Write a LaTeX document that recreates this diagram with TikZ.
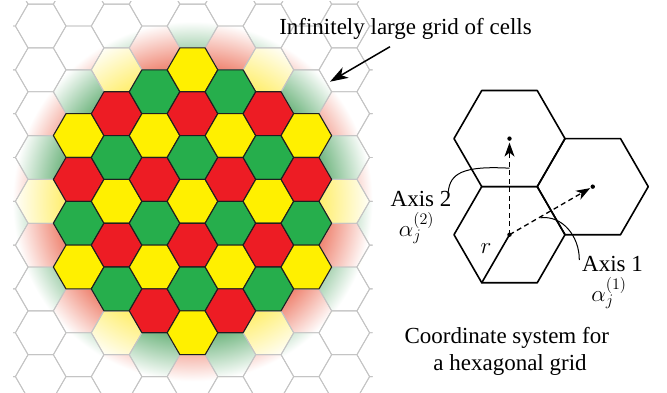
\RequirePackage{fix-cm}
\documentclass[tikz,border=0pt]{standalone}
\usepackage{fontspec}
\setmainfont{Liberation Serif}
\usetikzlibrary{arrows.meta}

\definecolor{hY}{RGB}{255,240,0}
\definecolor{hR}{RGB}{237,28,36}
\definecolor{hG}{RGB}{38,174,76}
\definecolor{fY}{RGB}{255,236,90}
\definecolor{fR}{RGB}{234,95,70}
\definecolor{fG}{RGB}{70,160,90}
\definecolor{gridgray}{RGB}{196,196,196}

\pgfdeclareradialshading{shY}{\pgfpointorigin}{color(0bp)=(fY); color(15bp)=(fY); color(22.5bp)=(white); color(50bp)=(white)}
\pgfdeclareradialshading{shR}{\pgfpointorigin}{color(0bp)=(fR); color(15bp)=(fR); color(22.5bp)=(white); color(50bp)=(white)}
\pgfdeclareradialshading{shG}{\pgfpointorigin}{color(0bp)=(fG); color(15bp)=(fG); color(22.5bp)=(white); color(50bp)=(white)}

\tikzset{
  gridline/.style={draw=gridgray, line width=0.9pt, line join=round},
  cellline/.style={draw=black!88, line width=1.1pt, line join=round},
  hexline/.style={draw=black, line width=1.6pt, line join=round, line cap=round},
  axisarrow/.style={dash pattern=on 5pt off 3.5pt, line width=1.3pt,
     -{Stealth[length=14pt,width=10pt,inset=4pt]}},
  bigarrow/.style={line width=1.5pt, -{Stealth[length=18pt,width=12pt,inset=5pt]}},
  leader/.style={line width=1pt},
  lbl/.style={font=\fontsize{23}{27}\selectfont, inner sep=0pt},
}
\def\HR{25.3}

\begin{document}
\begin{tikzpicture}[x=1pt,y=1pt]
\useasboundingbox (0,0) rectangle (667,392);

% ---------- left: hexagonal grid ----------
\begin{scope}
\clip (13,0) rectangle (372.5,390);
% faded outer rings
\foreach \q in {-5,...,5}{
  \foreach \k in {-11,...,11}{
    \pgfmathtruncatemacro\pp{mod(abs(\k-(\q)),2)}
    \ifnum\pp=0
      \pgfmathtruncatemacro\rr{(\k-(\q))/2}
      \pgfmathtruncatemacro\dd{max(abs(\q),abs(\rr),abs((\q)+(\rr)))}
      \pgfmathtruncatemacro\cc{mod(mod((\rr)+2*(\q),3)+3,3)}
      \pgfmathsetmacro\xx{192.5+37.95*\q}
      \pgfmathsetmacro\yy{190.7-21.91*\k}
      \edef\cn{\ifcase\cc Y\or R\else G\fi}
      \ifnum\dd>3 \ifnum\dd<6
        \begin{scope}
          \clip[shift={(\xx,\yy)}] (0:\HR) -- (60:\HR) -- (120:\HR) -- (180:\HR) -- (240:\HR) -- (300:\HR) -- cycle;
          \shade[shading=sh\cn] (192.5,190.7) circle (200);
        \end{scope}
      \fi\fi
    \fi
  }
}
% grey outlines of all cells
\foreach \q in {-5,...,5}{
  \foreach \k in {-11,...,11}{
    \pgfmathtruncatemacro\pp{mod(abs(\k-(\q)),2)}
    \ifnum\pp=0
      \pgfmathsetmacro\xx{192.5+37.95*\q}
      \pgfmathsetmacro\yy{190.7-21.91*\k}
      \path[gridline, shift={(\xx,\yy)}] (0:\HR) -- (60:\HR) -- (120:\HR) -- (180:\HR) -- (240:\HR) -- (300:\HR) -- cycle;
    \fi
  }
}
% coloured inner cells
\foreach \q in {-3,...,3}{
  \foreach \k in {-9,...,9}{
    \pgfmathtruncatemacro\pp{mod(abs(\k-(\q)),2)}
    \ifnum\pp=0
      \pgfmathtruncatemacro\rr{(\k-(\q))/2}
      \pgfmathtruncatemacro\dd{max(abs(\q),abs(\rr),abs((\q)+(\rr)))}
      \pgfmathtruncatemacro\cc{mod(mod((\rr)+2*(\q),3)+3,3)}
      \pgfmathsetmacro\xx{192.5+37.95*\q}
      \pgfmathsetmacro\yy{190.7-21.91*\k}
      \edef\cn{\ifcase\cc Y\or R\else G\fi}
      \ifnum\dd<4
        \path[cellline, fill=h\cn, shift={(\xx,\yy)}] (0:\HR) -- (60:\HR) -- (120:\HR) -- (180:\HR) -- (240:\HR) -- (300:\HR) -- cycle;
      \fi
    \fi
  }
}
\end{scope}

% ---------- title and arrow ----------
\node[lbl, anchor=base] (title) at (405.5,357) {Infinitely large grid of cells};
\coordinate (arrS) at (390,345.3);
\coordinate (arrE) at (330,310.3);
\draw[bigarrow] (arrS) -- (arrE);

% ---------- right: coordinate system ----------
\coordinate (B) at (509.5,157.3);
\coordinate (T) at (509.5,253.4);
\coordinate (Rc) at (592.75,205.35);
\foreach \c in {B,T,Rc}{
  \draw[hexline] (\c) ++(0:55.5) -- ++(120:55.5) -- ++(180:55.5) -- ++(240:55.5) -- ++(300:55.5) -- ++(0:55.5) -- cycle;
}
\path (B) +(240:55.5) coordinate (Bv);
\draw[hexline] (Bv) -- (B);
\draw[axisarrow, shorten >=4pt] (B) -- (T);
\draw[axisarrow, shorten >=3pt] (B) -- (Rc);
\fill (B) circle (2.2);
\fill (T) circle (2.2);
\fill (Rc) circle (2.2);

\node[lbl] (rlab) at (486,143) {$r$};

\node[lbl, anchor=base] (ax2) at (421,185.3) {Axis 2};
\node[lbl, anchor=base] (al2) at (416.5,155.3) {$\alpha_j^{(2)}$};
\node[lbl, anchor=base] (ax1) at (612.5,120.3) {Axis 1};
\node[lbl, anchor=base] (al1) at (609,90.3) {$\alpha_j^{(1)}$};

\coordinate (c2s) at (448.3,200.3);
\coordinate (c2e) at (509.5,223.8);
\draw[leader] (c2s) .. controls (450,218) and (462,226.5) .. (c2e);
\coordinate (c1s) at (579.3,132);
\coordinate (c1e) at (540.5,174.2);
\draw[leader] (c1s) .. controls (579.5,156) and (562,177) .. (c1e);

\node[lbl, anchor=base] (cap1) at (506.7,48.7) {Coordinate system for};
\node[lbl, anchor=base] (cap2) at (510,22) {a hexagonal grid};
\end{tikzpicture}
\end{document}
